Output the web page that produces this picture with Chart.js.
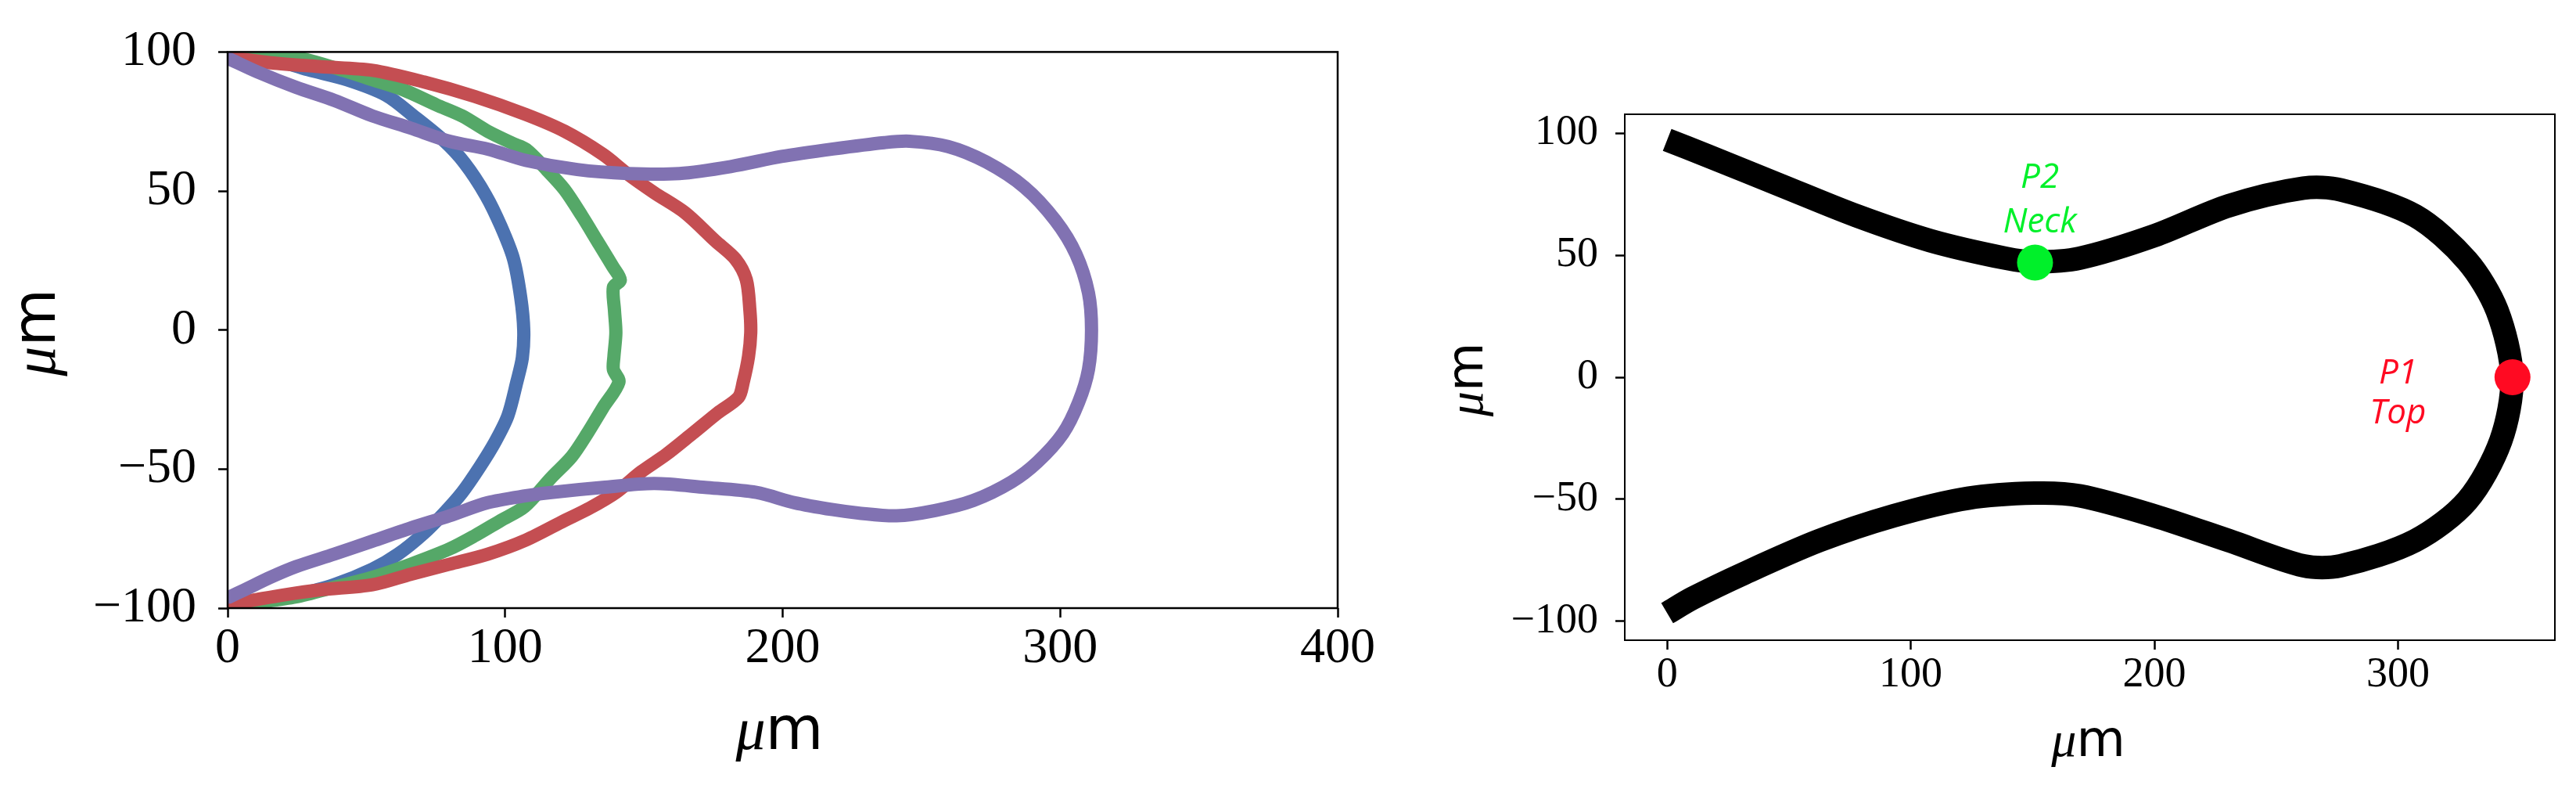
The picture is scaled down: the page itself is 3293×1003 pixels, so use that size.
<!DOCTYPE html>
<html>
<head>
<meta charset="utf-8">
<script src="https://cdn.jsdelivr.net/npm/chart.js@4.4.1/dist/chart.umd.min.js"></script>
<style>
  body { margin: 0; background: #fff; width: 3293px; height: 1003px; overflow: hidden; position: relative; }
  canvas { position: absolute; top: 0; }
  #left-chart { left: 0; }
  #right-chart { left: 1780px; }
</style>
</head>
<body>
<canvas id="left-chart" width="1760" height="1003"></canvas>
<canvas id="right-chart" width="1513" height="1003"></canvas>
<script>
// left panel: four outlines (um)
const blueX = [2, 15.5, 29, 43, 57, 67, 78, 85.4, 93, 98.4, 103, 105.6, 106.7, 106.2, 104.2, 101, 96.5, 91, 84.5, 78, 70.6, 61.4, 52.2, 38.4, 24.6, 10.8, 2.5];
const blueY = [99.5, 97.5, 93.6, 90, 84.5, 77, 68, 60, 48.5, 37.5, 25.6, 11.8, 0, -10, -18.7, -30.8, -40, -49, -58.4, -65.8, -73.2, -80.6, -86, -91.6, -95.3, -98, -99.5];

const greenX = [3, 22.7, 43, 52.2, 63.3, 75.2, 84.5, 93.7, 103, 107.5, 115, 121.4, 127.7, 133.2, 138.8, 141.5, 139, 139.4, 139.9, 139.2, 139, 141, 135.2, 129.6, 124, 116.7, 107, 98.4, 89, 80, 66, 52.2, 38.4, 24.6, 10.8, 2.5];
const greenY = [99.5, 98.5, 93, 90, 86.4, 81, 77, 71.5, 67, 65, 57.6, 50.5, 41, 32, 22.8, 18, 15.4, 7, -1, -9.5, -14.2, -18.7, -28, -37.2, -45.5, -53, -63.5, -68.5, -74, -78.7, -84.2, -88.9, -92.5, -96, -98, -99];

const redX = [1, 15.5, 33.7, 52.2, 70.8, 89, 107.5, 121.4, 135.2, 144.3, 153.7, 164.8, 175.8, 183, 186.9, 188.2, 188.5, 187.7, 185.8, 184.1, 176.6, 167.5, 158.1, 149, 139.9, 130.5, 121.4, 107.5, 93.7, 80, 66, 52.2, 33.7, 19.9, 8.8, 1];
const redY = [98, 96.1, 94.7, 93.4, 89.2, 84, 77.5, 71.5, 63.2, 56, 49.4, 42.2, 32, 25.5, 18.1, 7, -1, -9.5, -18.7, -24.2, -29.8, -37.2, -44.7, -51, -58.4, -64, -68.5, -75.5, -80.6, -84.2, -87.8, -91.6, -93.4, -95.3, -97.2, -98.5];

const purpleX = [0.6, 10.8, 24.6, 38.4, 52.2, 66, 80, 93.7, 107.5, 126, 144.3, 162.8, 181.3, 199.6, 218.1, 236.6, 245.7, 259.6, 273.4, 287.2, 298.3, 305.7, 310.2, 311.3, 310.2, 306.6, 301, 291.9, 282.5, 268.7, 254.9, 241, 227.2, 218.1, 204.3, 190.5, 172, 153.7, 135.2, 116.7, 107.5, 93.7, 80, 66, 52.2, 38.4, 24.6, 15.5, 6.1, 0.6];
const purpleY = [97.5, 92.8, 87.3, 82.6, 77, 72.6, 67.9, 65.1, 61, 57.7, 56.3, 56.3, 58.8, 62.4, 65.1, 67.4, 67.9, 66, 60.4, 51.3, 39.4, 27.3, 13.4, 0, -14.2, -26.1, -37.2, -47.4, -54.6, -61.3, -64.9, -66.8, -65.8, -64.6, -62.1, -58.4, -56.6, -55.2, -56.6, -58.4, -59.6, -62.1, -66.8, -71.2, -75.9, -80.6, -85.1, -88.9, -93.4, -96];

const leftXTicks = [0, 100, 200, 300, 400];
const leftYTicks = [-100, -50, 0, 50, 100];

// right panel: final outline with the two tracked points
const shapeX = [0, 16.5, 47, 77.7, 108, 138.8, 151, 169.4, 200, 230.6, 261.2, 276.5, 307, 328.4, 340.7, 346.8, 342.2, 328.4, 307, 276.5, 261.2, 230.6, 200, 169.4, 151, 123.5, 93, 62.4, 31.8, 10.4, 0];
const shapeY = [97.3, 90.8, 78.5, 66.2, 56, 48.8, 47.3, 48.8, 58, 70.3, 77.5, 76.8, 66.2, 47.7, 27.3, 0, -26, -50.6, -67, -77.3, -77.3, -67, -56.8, -48.6, -47.5, -49.6, -56.8, -67, -80.3, -90.6, -96.7];

const p1 = { x: 347, y: 0 };
const p2 = { x: 151, y: 47 };
const rightXTicks = [0, 100, 200, 300];
const rightYTicks = [-100, -50, 0, 50, 100];

const toPts = (xs, ys) => xs.map((x, i) => ({ x: x, y: ys[i] }));
const fmt = v => v < 0 ? '\u2212' + Math.abs(v) : String(v);

function muTitle(ctx, cx, cy, size, vertical) {
  ctx.save();
  ctx.translate(cx, cy);
  if (vertical) ctx.rotate(-Math.PI / 2);
  const fMu = 'italic ' + size + 'px "Liberation Serif"';
  const fM = size + 'px "DejaVu Sans"';
  ctx.font = fMu;
  const w1 = ctx.measureText('\u03bc').width;
  ctx.font = fM;
  const w2 = ctx.measureText('m').width;
  const x0 = -(w1 + w2) / 2;
  ctx.fillStyle = '#000';
  ctx.textBaseline = 'alphabetic';
  ctx.textAlign = 'left';
  ctx.font = fMu;
  ctx.fillText('\u03bc', x0, 0);
  ctx.font = fM;
  ctx.fillText('m', x0 + w1, 0);
  ctx.restore();
}

// box around the plot area, axis titles and point notes
const frame = {
  id: 'frame',
  afterDraw(chart, args, opts) {
    const ctx = chart.ctx, a = chart.chartArea;
    ctx.save();
    ctx.strokeStyle = '#000';
    ctx.lineWidth = opts.width;
    ctx.strokeRect(a.left, a.top, a.right - a.left, a.bottom - a.top);
    ctx.restore();
    muTitle(ctx, (a.left + a.right) / 2 + opts.xShift, opts.xBase, opts.size, false);
    muTitle(ctx, opts.yBase, (a.top + a.bottom) / 2 + opts.yShift, opts.size, true);
    (opts.notes || []).forEach(n => {
      const x = chart.scales.x.getPixelForValue(n.x);
      ctx.save();
      ctx.fillStyle = n.color;
      ctx.font = 'italic 44px "Open Sans"';
      ctx.textAlign = 'center';
      ctx.textBaseline = 'alphabetic';
      n.lines.forEach((t, i) => ctx.fillText(t, x, chart.scales.y.getPixelForValue(n.ys[i])));
      ctx.restore();
    });
  }
};

function axis(min, max, ticks, size, pad, fitKey, fitVal) {
  return {
    type: 'linear', min: min, max: max,
    afterBuildTicks: s => { s.ticks = ticks.map(v => ({ value: v })); },
    afterFit: s => { s[fitKey] = fitVal; },
    border: { display: false },
    grid: { drawOnChartArea: false, tickLength: 12, tickWidth: 2.5, tickColor: '#000' },
    ticks: { font: { family: 'Liberation Serif', size: size }, color: '#000', padding: pad, maxRotation: 0, autoSkip: false, callback: fmt }
  };
}

function curve(xs, ys, color, width, order) {
  return {
    data: toPts(xs, ys), showLine: true, borderColor: color, borderWidth: width,
    borderCapStyle: 'round', borderJoinStyle: 'round', pointRadius: 0, pointHoverRadius: 0,
    tension: 0.3, clip: 0, order: order
  };
}

Chart.defaults.animation = false;
Chart.defaults.events = [];

new Chart(document.getElementById('left-chart'), {
  type: 'scatter',
  data: {
    datasets: [
      curve(blueX, blueY, '#4C72B0', 17, 4),
      curve(greenX, greenY, '#55A868', 17, 3),
      curve(redX, redY, '#C44E52', 17, 2),
      curve(purpleX, purpleY, '#8172B2', 17, 1)
    ]
  },
  options: {
    responsive: false,
    layout: { padding: { top: 54, right: 22, left: 0, bottom: 0 } },
    scales: {
      x: axis(0, 400, leftXTicks, 64, 2, 'height', 226),
      y: axis(-100, 100, leftYTicks, 64, 28, 'width', 291)
    },
    plugins: {
      legend: { display: false }, tooltip: { enabled: false },
      frame: { width: 2.5, size: 76, xBase: 957, xShift: -4, yBase: 70, yShift: 3 }
    }
  },
  plugins: [frame]
});

new Chart(document.getElementById('right-chart'), {
  type: 'scatter',
  data: {
    datasets: [
      Object.assign(curve(shapeX, shapeY, '#000', 30, 2), { borderCapStyle: 'butt' }),
      { data: [p2], pointRadius: 23, pointBackgroundColor: '#00F02A', pointBorderWidth: 0, order: 1 },
      { data: [p1], pointRadius: 23, pointBackgroundColor: '#FF0A22', pointBorderWidth: 0, order: 0 }
    ]
  },
  options: {
    responsive: false,
    layout: { padding: { top: 146, right: 27, left: 0, bottom: 0 } },
    scales: {
      x: axis(-17.4, 364.4, rightXTicks, 54, 0, 'height', 185),
      y: axis(-107.8, 107.8, rightYTicks, 54, 22, 'width', 297)
    },
    plugins: {
      legend: { display: false }, tooltip: { enabled: false },
      frame: {
        width: 2, size: 64, xBase: 966, xShift: -2, yBase: 115, yShift: 3,
        notes: [
          { x: 153, ys: [77.6, 59.3], lines: ['P2', 'Neck'], color: '#00F02A' },
          { x: 300, ys: [-2.6, -18.8], lines: ['P1', 'Top'], color: '#FF0A22' }
        ]
      }
    }
  },
  plugins: [frame]
});
</script>
</body>
</html>
